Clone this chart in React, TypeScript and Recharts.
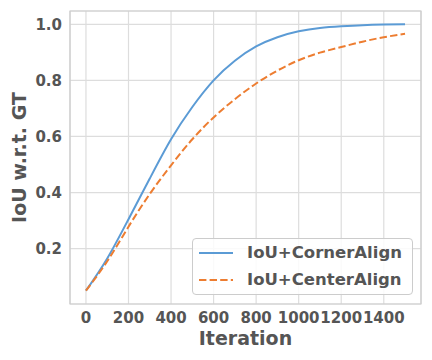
import React from 'react';
import {
  LineChart,
  Line,
  XAxis,
  YAxis,
  CartesianGrid,
  ReferenceArea,
  Legend
} from 'recharts';

const iterations = [0, 100, 200, 300, 400, 500, 600, 700, 800, 900, 1000, 1100, 1200, 1300, 1400, 1500];
const cornerAlign = [0.05, 0.165, 0.305, 0.45, 0.59, 0.705, 0.8, 0.87, 0.921, 0.954, 0.975, 0.987, 0.993, 0.997, 0.999, 1.0];
const centerAlign = [0.05, 0.155, 0.278, 0.395, 0.497, 0.59, 0.668, 0.733, 0.789, 0.835, 0.872, 0.899, 0.919, 0.938, 0.954, 0.966];

const xTicks = [0, 200, 400, 600, 800, 1000, 1200, 1400];
const yTicks = [0.2, 0.4, 0.6, 0.8, 1.0];

const seriesNames = ['IoU+CornerAlign', 'IoU+CenterAlign'];
const BLUE = '#5b9bd5';
const ORANGE = '#ed7d31';
const TEXT = '#555555';
const FONT = '"DejaVu Sans", sans-serif';
const DASH = '7.4 3.2';

const data = iterations.map((it, i) => ({
  iter: it,
  corner: cornerAlign[i],
  center: centerAlign[i]
}));

const renderLegend = () => (
  <div
    style={{
      boxSizing: 'border-box',
      width: 221,
      height: 57,
      border: '1px solid #cccccc',
      borderRadius: 4,
      background: 'rgba(255,255,255,0.85)',
      fontFamily: FONT
    }}
  >
    {seriesNames.map((name, i) => (
      <div key={name} style={{ display: 'flex', alignItems: 'center', height: 27 }}>
        <svg width={54} height={10} style={{ flex: 'none' }}>
          <line
            x1={6}
            x2={40}
            y1={5}
            y2={5}
            stroke={i === 0 ? BLUE : ORANGE}
            strokeWidth={2}
            strokeDasharray={i === 0 ? undefined : DASH}
          />
        </svg>
        <span style={{ fontSize: 16.5, fontWeight: 'bold', color: TEXT, whiteSpace: 'nowrap' }}>{name}</span>
      </div>
    ))}
  </div>
);

export default function App() {
  return (
    <div style={{ position: 'absolute', left: 0, top: 0, width: 432, height: 360, background: '#fff' }}>
      <LineChart
        width={432}
        height={360}
        data={data}
        margin={{ top: 11, right: 11, left: 0, bottom: 0 }}
        style={{ fontFamily: FONT }}
      >
        <CartesianGrid stroke="#dddddd" strokeWidth={1.2} />
        <ReferenceArea
          x1={-75}
          x2={1575}
          y1={0.0025}
          y2={1.0475}
          fill="none"
          stroke="#cccccc"
          strokeWidth={1.2}
          fillOpacity={0}
        />
        <XAxis
          type="number"
          dataKey="iter"
          domain={[-75, 1575]}
          ticks={xTicks}
          interval={0}
          allowDataOverflow
          tickLine={false}
          axisLine={false}
          height={56}
          tick={{ fill: TEXT, fontSize: 15, fontWeight: 'bold' }}
          label={{
            value: 'Iteration',
            position: 'insideBottom',
            offset: 15,
            fill: TEXT,
            fontSize: 19,
            fontWeight: 'bold'
          }}
        />
        <YAxis
          type="number"
          domain={[0.0025, 1.0475]}
          ticks={yTicks}
          allowDataOverflow
          tickLine={false}
          axisLine={false}
          width={70}
          tickFormatter={(v: number) => v.toFixed(1)}
          tick={{ fill: TEXT, fontSize: 15, fontWeight: 'bold' }}
          label={{
            value: 'IoU w.r.t. GT',
            angle: -90,
            position: 'insideLeft',
            offset: 19,
            fill: TEXT,
            fontSize: 19,
            fontWeight: 'bold',
            style: { textAnchor: 'middle' }
          }}
        />
        <Line
          type="natural"
          dataKey="corner"
          name={seriesNames[0]}
          stroke={BLUE}
          strokeWidth={2}
          dot={false}
          isAnimationActive={false}
        />
        <Line
          type="natural"
          dataKey="center"
          name={seriesNames[1]}
          stroke={ORANGE}
          strokeWidth={2}
          strokeDasharray={DASH}
          dot={false}
          isAnimationActive={false}
        />
        <Legend
          layout="vertical"
          align="center"
          verticalAlign="middle"
          content={renderLegend}
          wrapperStyle={{ position: 'absolute', left: 192, top: 238, width: 221, height: 57 }}
        />
      </LineChart>
    </div>
  );
}
